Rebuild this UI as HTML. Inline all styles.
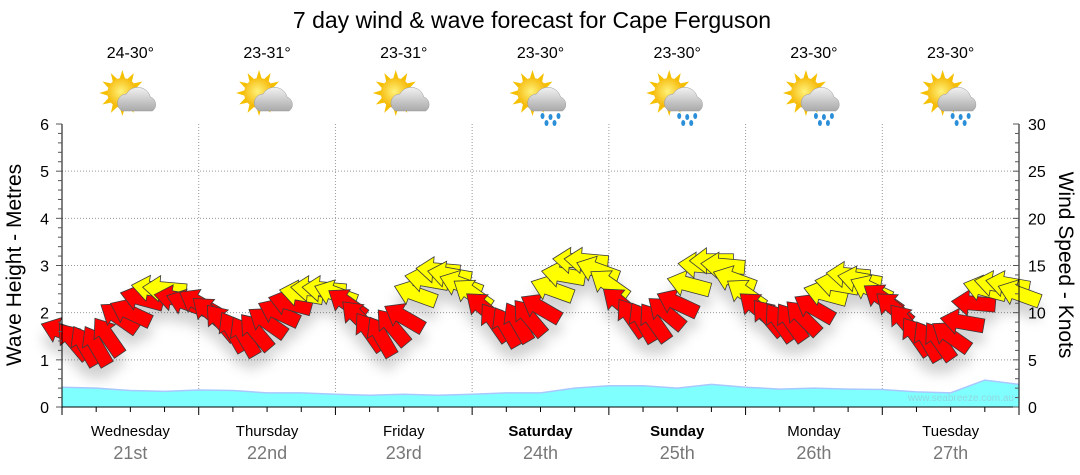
<!DOCTYPE html>
<html><head><meta charset="utf-8"><style>
body{margin:0;background:#fff;width:1080px;height:475px;overflow:hidden;font-family:"Liberation Sans",sans-serif}
svg{display:block}
</style></head><body>
<svg id="chart" width="1080" height="475" xmlns="http://www.w3.org/2000/svg">
<defs>
<filter id="shadow" x="-20%" y="-20%" width="140%" height="160%"><feDropShadow dx="0" dy="12" stdDeviation="6" flood-color="#000" flood-opacity="0.18"/></filter>
<radialGradient id="sunG" cx="45%" cy="45%" r="55%"><stop offset="0" stop-color="#fff27a"/><stop offset="1" stop-color="#f5b400"/></radialGradient>
<linearGradient id="cloudG" x1="0" y1="0" x2="0" y2="1"><stop offset="0" stop-color="#f2f2f2"/><stop offset="1" stop-color="#a9a9a9"/></linearGradient>
</defs>
<text x="532" y="28" font-size="23" text-anchor="middle" fill="#000">7 day wind &amp; wave forecast for Cape Ferguson</text>
<g id="grid"></g>
<g id="wave"></g>
<text x="1014" y="401" font-size="10" text-anchor="end" fill="#8fd8df">www.seabreeze.com.au</text>
<g id="arrows" filter="url(#shadow)"></g>
<g id="axes"></g>
<g id="icons"></g>
<text transform="translate(21,265) rotate(-90)" font-size="21" text-anchor="middle" fill="#000">Wave Height - Metres</text>
<text transform="translate(1059,265) rotate(90)" font-size="21" text-anchor="middle" fill="#000">Wind Speed - Knots</text>
</svg>
<script>
const days = ["Wednesday","Thursday","Friday","Saturday","Sunday","Monday","Tuesday"];
const dates = ["21st","22nd","23rd","24th","25th","26th","27th"];
const weekend = [false,false,false,true,true,false,false];
const temps = ["24-30°","23-31°","23-31°","23-30°","23-30°","23-30°","23-30°"];
const rain = [false,false,false,true,true,true,true];
// wind every 2 hours from t=0
const windSpeed = [8,7,6.5,6.5,7.5,9.5,10,11.5,12.5,12.5,11.5,11,11,
 10,9,8,7.5,8,9,10,11,12,12.5,12.5,12,
 11,9.5,8,7.5,8.5,9.5,12,13.5,14.5,14,13,12,
 10.5,9,8.5,9,9.5,10.5,12.5,14,15.5,15.5,14.5,13,
 11,9.5,9,9,10,11,13,15,15.5,15,13.5,12,
 10.5,9.5,9,9,9.5,10.5,12,13,14,13.5,12.5,11.5,
 10.5,9,7.5,7,7,7.5,9,11,12.5,13,13,12];
const windDir = [110,140,150,150,145,125,115,105,100,95,100,110,120,
 130,140,150,150,140,125,115,105,100,95,95,110,
 125,135,145,150,140,120,110,100,95,100,110,125,
 130,145,150,150,140,120,110,100,95,95,110,125,
 130,145,150,145,130,115,105,95,90,95,110,125,
 130,140,145,145,135,120,105,100,95,100,115,125,
 130,140,145,150,145,125,100,95,105,100,100,110];
const windStep = 2;
// wave height every 6 hours
const waveH = [0.42,0.4,0.35,0.33,0.36,0.35,0.3,0.3,0.27,0.25,0.27,0.25,0.27,0.3,0.3,0.4,0.45,0.45,0.4,0.48,0.42,0.38,0.4,0.38,0.37,0.32,0.3,0.57,0.48];
const waveStep = 6;
const leftTicks = [0,1,2,3,4,5,6];
const rightTicks = [0,5,10,15,20,25,30];

const NS="http://www.w3.org/2000/svg";
const X0=62, X1=1019, Y0=407, Y1=124;
const dayW=(X1-X0)/7;
const xT = t => X0 + t/24*dayW;
const yM = m => Y0 - m/6*(Y0-Y1);
const yK = k => Y0 - k/30*(Y0-Y1);
function mk(tag, attrs, parent){const e=document.createElementNS(NS,tag);for(const k in attrs)e.setAttribute(k,attrs[k]);parent.appendChild(e);return e;}
const grid=document.getElementById('grid'), axes=document.getElementById('axes');

for(let m=1;m<=5;m++){const l=mk('line',{x1:X0,x2:X1,y1:yM(m),y2:yM(m),stroke:'#999','stroke-width':1,'stroke-dasharray':'1,2'},grid);

}
for(let d=1;d<7;d++){const l=mk('line',{x1:X0+d*dayW,x2:X0+d*dayW,y1:Y1,y2:Y0,stroke:'#999','stroke-width':1,'stroke-dasharray':'1,2'},grid);

}

let pts=`M${xT(0)},${Y0}`;
waveH.forEach((h,i)=>{pts+=` L${xT(i*waveStep)},${yM(h)}`});
pts+=` L${xT((waveH.length-1)*waveStep)},${Y0} Z`;
const wa=mk('path',{d:pts,fill:'#80ffff'},document.getElementById('wave'));


let ln='';waveH.forEach((h,i)=>{ln+=(i?' L':'M')+xT(i*waveStep)+','+yM(h)});
const wl=mk('path',{d:ln,fill:'none',stroke:'#a8c8ff','stroke-width':1.5},document.getElementById('wave'));



const ag=document.getElementById('arrows');
windSpeed.forEach((s,i)=>{
  const cx=xT(i*windStep), cy=yK(s);
  const ang = windDir[i]+180;
  const rot = ang-90;
  const L=22, hl=17, hw=13, sw=7;
  const p=`${L},0 ${L-hl},${-hw} ${L-hl},${-sw} ${-L},${-sw} ${-L},${sw} ${L-hl},${sw} ${L-hl},${hw}`;
  const a=mk('polygon',{points:p,fill:s>=12?'#ffff00':'#ff0000',stroke:'#3a3a3a','stroke-width':0.8,transform:`translate(${cx},${cy}) rotate(${rot})`},ag);
  
  
});

mk('line',{x1:X0,x2:X0,y1:Y1,y2:Y0,stroke:'#000'},axes);
mk('line',{x1:X1,x2:X1,y1:Y1,y2:Y0,stroke:'#000'},axes);
mk('line',{x1:X0,x2:X1,y1:Y0,y2:Y0,stroke:'#000'},axes);
for(let i=0;i<=30;i++){const m=i*0.2;const y=yM(m);
  mk('line',{x1:X0-(i%5?4:6),x2:X0,y1:y,y2:y,stroke:'#555'},axes);}
leftTicks.forEach(m=>{const t=mk('text',{x:X0-13,y:yM(m)+6,'font-size':16,'text-anchor':'end',fill:'#000'},axes);t.textContent=m;

});
for(let k=0;k<=30;k++){const y=yK(k);mk('line',{x1:X1-(k%5?4:6),x2:X1,y1:y,y2:y,stroke:'#555'},axes);}
rightTicks.forEach(k=>{const t=mk('text',{x:X1+9,y:yK(k)+6,'font-size':16,fill:'#000'},axes);t.textContent=k;

});
for(let i=0;i<=28;i++){const x=xT(i*6);mk('line',{x1:x,x2:x,y1:Y0,y2:Y0+(i%4?5:8),stroke:'#000'},axes);}
days.forEach((d,i)=>{const cx=X0+(i+0.5)*dayW;
  const t=mk('text',{x:cx,y:436,'font-size':15,'text-anchor':'middle',fill:'#000','font-weight':weekend[i]?'bold':'normal'},axes);t.textContent=d;
  
  
  const t2=mk('text',{x:cx,y:459,'font-size':18,'text-anchor':'middle',fill:'#777'},axes);t2.textContent=dates[i];
  
  
});

const ig=document.getElementById('icons');
temps.forEach((tp,i)=>{const cx=X0+(i+0.5)*dayW;
  const t=mk('text',{x:cx,y:58,'font-size':16,'text-anchor':'middle',fill:'#000'},ig);t.textContent=tp;
  
  
  const g=mk('g',{transform:`translate(${cx},${97})`},ig);
  
  
  for(let r=0;r<12;r++){const a=r*30*Math.PI/180;
    mk('polygon',{points:`${-8+Math.cos(a)*23},${-4+Math.sin(a)*23} ${-8+Math.cos(a+0.25)*13},${-4+Math.sin(a+0.25)*13} ${-8+Math.cos(a-0.25)*13},${-4+Math.sin(a-0.25)*13}`,fill:'#f5c000'},g);}
  mk('circle',{cx:-8,cy:-4,r:15,fill:'url(#sunG)'},g);
  mk('path',{d:'M-8,14 a9,9 0 0 1 4,-17 a13,13 0 0 1 24,3 a8,8 0 0 1 2,14 Z',fill:'url(#cloudG)',stroke:'#999','stroke-width':0.5},g);
  if(rain[i]){[[2,19],[10,20],[18,19],[6,26],[14,26]].forEach(p=>mk('ellipse',{cx:p[0],cy:p[1],rx:2,ry:3,fill:'#2a8fd8'},g));}
});
</script>
</body></html>
